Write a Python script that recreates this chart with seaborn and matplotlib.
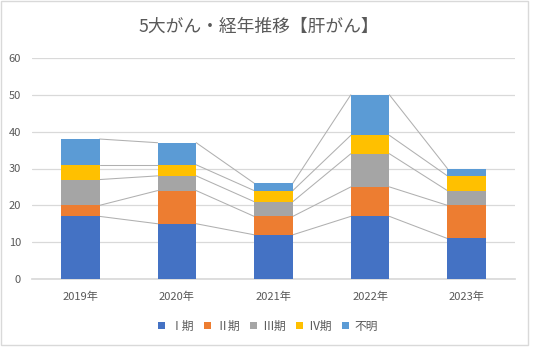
import numpy as np
import pandas as pd
import matplotlib
matplotlib.use("Agg")
import matplotlib.pyplot as plt
import seaborn as sns
from matplotlib.patches import Rectangle, Patch

years = ["2019年", "2020年", "2021年", "2022年", "2023年"]
stage_names = ["Ⅰ期", "Ⅱ期", "Ⅲ期", "Ⅳ期", "不明"]
stage1 = [17, 15, 12, 17, 11]
stage2 = [3, 9, 5, 8, 9]
stage3 = [7, 4, 4, 9, 4]
stage4 = [4, 3, 3, 5, 4]
unknown = [7, 6, 2, 11, 2]
title = "5大がん・経年推移【肝がん】"

colors = ["#4472C4", "#ED7D31", "#A5A5A5", "#FFC000", "#5B9BD5"]

sns.set_theme(style="white")
plt.rcParams["font.family"] = ["Noto Sans CJK JP", "DejaVu Sans"]

series = [stage1, stage2, stage3, stage4, unknown]
cum = np.cumsum(np.array(series), axis=0)  # cumulative tops per layer

fig = plt.figure(figsize=(5.33, 3.49), dpi=100)
ax = fig.add_axes([32 / 533, 1 - 279 / 349, (515 - 32) / 533, (279 - 58) / 349])

width = 0.4
# draw from top layer down so lower layers cover upper
for i in range(len(series) - 1, -1, -1):
    df = pd.DataFrame({"year": years, "value": cum[i]})
    sns.barplot(data=df, x="year", y="value", color=colors[i], width=width,
                saturation=1, ax=ax, linewidth=0, zorder=3)

# series lines connecting the tops of segments between adjacent bars
for i in range(len(series)):
    for j in range(len(years) - 1):
        ax.plot([j + width / 2, j + 1 - width / 2], [cum[i][j], cum[i][j + 1]],
                color="#B0B0B0", linewidth=0.75, zorder=2)

ax.set_xlim(-0.5, 4.5)
ax.set_ylim(0, 60)
ax.set_yticks(range(0, 61, 10))
ax.yaxis.grid(True, color="#D9D9D9", linewidth=0.9)
ax.set_axisbelow(True)
for s in ["top", "right", "left"]:
    ax.spines[s].set_visible(False)
ax.spines["bottom"].set_color("#D9D9D9")
ax.set_xlabel("")
ax.set_ylabel("")
ax.tick_params(axis="both", length=0, labelsize=8, colors="#595959")
ax.tick_params(axis="y", pad=8)
ax.tick_params(axis="x", pad=9)

fig.text(259 / 533, 1 - 27 / 349, title, ha="center", va="center",
         fontsize=12.8, color="#595959")

handles = [Patch(facecolor=c, edgecolor="none") for c in colors]
fig.legend(handles, stage_names, loc="center", bbox_to_anchor=(268 / 533, 1 - 326 / 349),
           ncol=5, frameon=False, fontsize=8.5, handlelength=0.6, handleheight=0.6,
           handletextpad=0.4, columnspacing=0.9, labelcolor="#595959")

fig.patches.append(Rectangle((0.5 / 533, 1 - 345 / 349), 527.5 / 533, 344 / 349,
                             transform=fig.transFigure, fill=False,
                             edgecolor="#D9D9D9", linewidth=1))

fig.savefig("out.png", dpi=100)
